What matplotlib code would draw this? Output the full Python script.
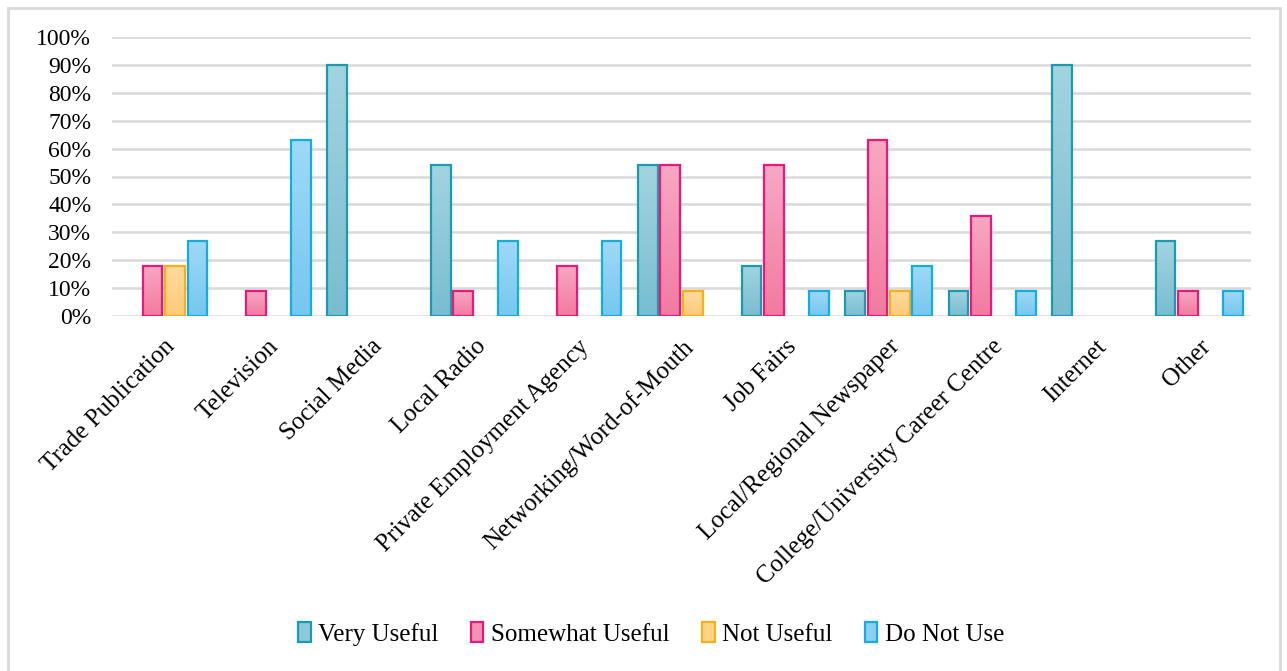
import numpy as np
import matplotlib.pyplot as plt
from matplotlib.colors import LinearSegmentedColormap
from matplotlib.patches import Rectangle
from matplotlib.ticker import FuncFormatter

plt.rcParams['font.family'] = ['Liberation Serif', 'DejaVu Serif']

categories = ['Trade Publication', 'Television', 'Social Media', 'Local Radio',
              'Private Employment Agency', 'Networking/Word-of-Mouth', 'Job Fairs',
              'Local/Regional Newspaper', 'College/University Career Centre',
              'Internet', 'Other']
very_useful     = [0, 0, 90, 54, 0, 54, 18, 9, 9, 90, 27]
somewhat_useful = [18, 9, 0, 9, 18, 54, 54, 63, 36, 0, 9]
not_useful      = [18, 0, 0, 0, 0, 9, 0, 9, 0, 0, 0]
do_not_use      = [27, 63, 0, 27, 27, 0, 9, 18, 9, 0, 9]
series_names = ['Very Useful', 'Somewhat Useful', 'Not Useful', 'Do Not Use']

# edge colour, top of gradient, bottom of gradient
styles = [
    ('#1a9bb0', '#a2d4e0', '#79bdd1'),
    ('#e8197a', '#f7a8c2', '#f27aa1'),
    ('#f8b018', '#ffdb9e', '#fdca7a'),
    ('#12aedf', '#9fd9f6', '#76c7ef'),
]

fig = plt.figure(figsize=(12.87, 6.71), dpi=100)
ax = fig.add_axes([112 / 1287, 1 - 316 / 671, 1139 / 1287, 279 / 671])

x = np.arange(len(categories))
width = 0.19
step = 0.217
all_series = [very_useful, somewhat_useful, not_useful, do_not_use]

for i, (vals, (edge, top, bot)) in enumerate(zip(all_series, styles)):
    cmap = LinearSegmentedColormap.from_list('g%d' % i, [bot, top])
    offs = (i - 1.5) * step
    bars = ax.bar(x + offs, vals, width, facecolor='none', edgecolor=edge,
                  linewidth=1.6, zorder=3, label='_')
    for b, v in zip(bars, vals):
        if v == 0:
            # empty answers: no bar at all
            b.set_visible(False)
            continue
        grad = np.linspace(0, 1, 100).reshape(-1, 1)
        im = ax.imshow(grad, cmap=cmap, origin='lower', aspect='auto',
                       extent=[b.get_x(), b.get_x() + b.get_width(), 0, v],
                       zorder=2)
        im.set_clip_path(b)
    # legend swatch uses the mid tone of the gradient
    ax.bar([np.nan], [np.nan], facecolor=cmap(0.5), edgecolor=edge,
           linewidth=1.6, label=series_names[i])

ax.set_xlim(-0.5, len(categories) - 0.5)
ax.set_ylim(0, 100)
ax.set_yticks(np.arange(0, 101, 10))
ax.yaxis.set_major_formatter(FuncFormatter(lambda v, p: '%d%%' % v))
ax.grid(axis='y', color='#d9d9d9', linewidth=1.8, zorder=0)
ax.set_axisbelow(True)
for s in ax.spines.values():
    s.set_visible(False)
ax.tick_params(length=0, labelsize=17)
ax.tick_params(axis='y', pad=15)
ax.set_xticks(x)
ax.set_xticklabels(categories, rotation=45, ha='right', rotation_mode='anchor',
                   fontsize=18)
ax.tick_params(axis='x', pad=14)

ax.legend(loc='center', bbox_to_anchor=(0.506, 0.055), bbox_transform=fig.transFigure,
          ncol=4, frameon=False, fontsize=18, handlelength=0.5, handleheight=0.8,
          handletextpad=0.3, columnspacing=1.3)

fig.patches.append(Rectangle((8 / 1287, -0.05), 1272 / 1287, 1.05 - 8 / 671,
                             transform=fig.transFigure, fill=False,
                             edgecolor='#d9d9d9', linewidth=2))

fig.savefig('out.png', dpi=100)
